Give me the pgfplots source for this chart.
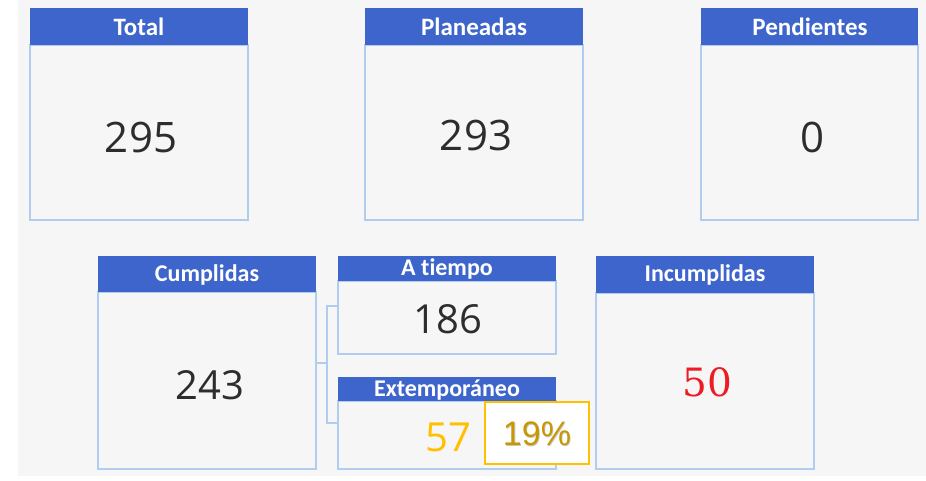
\documentclass[border=0pt]{standalone}
\usepackage{pgfplots}
\pgfplotsset{compat=1.18}
\usepackage{fontspec}
\setmainfont{Open Sans}
\newfontfamily\hdr[Ligatures=NoCommon]{Carlito}
\newfontfamily\numf{Open Sans}
\newfontfamily\serf{DejaVu Serif}
\newfontfamily\arialf{Liberation Sans}
\definecolor{hblue}{RGB}{61,101,204}
\definecolor{bord}{RGB}{176,204,238}
\definecolor{bg}{RGB}{246,246,246}
\definecolor{numgray}{RGB}{45,45,45}
\definecolor{gold}{RGB}{255,192,0}
\definecolor{dgold}{RGB}{200,152,0}
\definecolor{red50}{RGB}{237,28,36}
\begin{document}
\begin{tikzpicture}
\begin{axis}[
  x=1pt, y=1pt, y dir=reverse,
  xmin=0, xmax=926, ymin=0, ymax=481,
  hide axis, clip=false, scale only axis,
]
% background
\fill[white] (axis cs:0,0) rectangle (axis cs:926,481);
\fill[bg] (axis cs:18,0) rectangle (axis cs:926,476);
% Top row
\foreach \xa/\xb in {30/248, 365/583, 701/918}{
  \edef\tmp{\noexpand\draw[bord, line width=1.2pt] (axis cs:\xa,45) rectangle (axis cs:\xb,220);
  \noexpand\fill[hblue] (axis cs:\xa,8) rectangle (axis cs:\xb,45);}
  \tmp
}
\node[text=white, font=\hdr\bfseries\fontsize{25}{27}\selectfont] at (axis cs:139,27) {Total};
\node[text=white, font=\hdr\bfseries\fontsize{25}{27}\selectfont] at (axis cs:474,27) {Planeadas};
\node[text=white, font=\hdr\bfseries\fontsize{25}{27}\selectfont] at (axis cs:810,27) {Pendientes};
\node[text=numgray, font=\numf\fontsize{42}{44}\selectfont] at (axis cs:141,137) {295};
\node[text=numgray, font=\numf\fontsize{42}{44}\selectfont] at (axis cs:476,135) {293};
\node[text=numgray, font=\numf\fontsize{42}{44}\selectfont] at (axis cs:812,137) {0};
% connector
\draw[bord, line width=1.2pt] (axis cs:316,363) -- (axis cs:327,363);
\draw[bord, line width=1.2pt] (axis cs:338,306) -- (axis cs:327,306) -- (axis cs:327,423) -- (axis cs:338,423);
% Cumplidas
\draw[bord, line width=1.2pt] (axis cs:98,292) rectangle (axis cs:316,469);
\fill[hblue] (axis cs:98,256) rectangle (axis cs:316,292);
\node[text=white, font=\hdr\bfseries\fontsize{24}{26}\selectfont] at (axis cs:207,275) {Cumplidas};
\node[text=numgray, font=\numf\fontsize{40}{42}\selectfont] at (axis cs:210,385) {243};
% A tiempo
\draw[bord, line width=1.2pt] (axis cs:338,281) rectangle (axis cs:556,354);
\fill[hblue] (axis cs:338,256) rectangle (axis cs:556,281);
\node[text=white, font=\hdr\bfseries\fontsize{24}{26}\selectfont] at (axis cs:447,269) {A t\kern0pt iempo};
\node[text=numgray, font=\numf\fontsize{40}{42}\selectfont] at (axis cs:448,319) {186};
% Extemporaneo
\draw[bord, line width=1.2pt] (axis cs:338,401) rectangle (axis cs:556,469);
\fill[hblue] (axis cs:338,377) rectangle (axis cs:556,401);
\node[text=white, font=\hdr\bfseries\fontsize{24}{26}\selectfont] at (axis cs:447,390) {Extemporáneo};
\node[text=gold, font=\numf\fontsize{40}{42}\selectfont] at (axis cs:448,437) {57};
% 19% box
\fill[white] (axis cs:485,402) rectangle (axis cs:589,464);
\draw[gold, line width=2pt] (axis cs:485,402) rectangle (axis cs:589,464);
\node[text=gray!45, font=\arialf\fontsize{34}{36}\selectfont] at (axis cs:537.8,434.8) {19\%};
\node[text=dgold, font=\arialf\fontsize{34}{36}\selectfont] at (axis cs:537,434) {19\%};
% Incumplidas
\draw[bord, line width=1.2pt] (axis cs:596,293) rectangle (axis cs:814,469);
\fill[hblue] (axis cs:596,256) rectangle (axis cs:814,293);
\node[text=white, font=\hdr\bfseries\fontsize{24}{26}\selectfont] at (axis cs:705,275) {Incumplidas};
\node[text=red50, font=\serf\fontsize{39}{41}\selectfont] at (axis cs:707,382) {50};
\end{axis}
\end{tikzpicture}
\end{document}
